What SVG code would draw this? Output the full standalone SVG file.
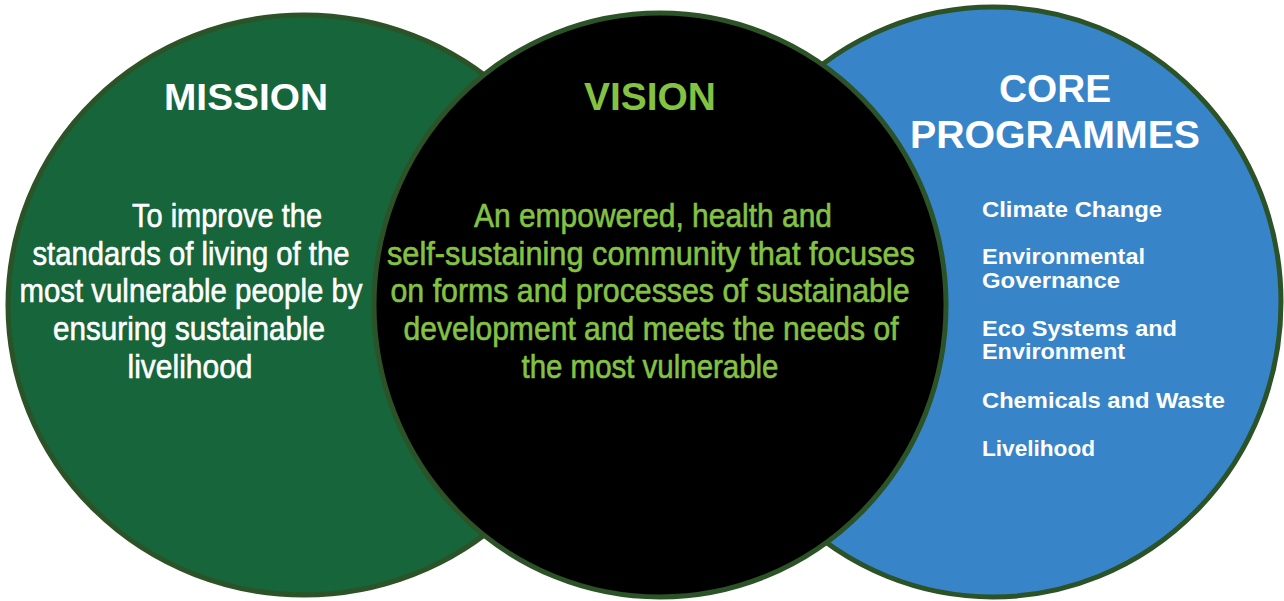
<svg xmlns="http://www.w3.org/2000/svg" width="1284" height="601" viewBox="0 0 1284 601">
  <style>
    .ring { stroke: #2c5227; stroke-width: 5; }
    .title { font-family: "Liberation Sans", Arial, sans-serif; font-weight: bold; text-anchor: middle; }
    .body { font-family: "Liberation Sans", Arial, sans-serif; font-size: 33px; text-anchor: middle; stroke-width: 0.6; }
    .item { font-family: "Liberation Sans", Arial, sans-serif; font-weight: bold; font-size: 22px; fill: #ffffff; }
    .white { fill: #ffffff; stroke: #ffffff; }
    .lime { fill: #84c242; stroke: #84c242; }
    .title.white, .title.lime { stroke: none; }
  </style>
  <rect x="0" y="0" width="1284" height="601" fill="#ffffff"/>

  <g id="mission">
    <ellipse class="ring" cx="304" cy="305" rx="296" ry="290" fill="#17653a"/>
    <text class="title white" x="246" y="110" font-size="37" textLength="164" lengthAdjust="spacingAndGlyphs">MISSION</text>
    <text class="body white" x="227" y="227" textLength="190" lengthAdjust="spacingAndGlyphs">To improve the</text>
    <text class="body white" x="191" y="265" textLength="317" lengthAdjust="spacingAndGlyphs">standards of living of the</text>
    <text class="body white" x="191" y="302" textLength="343" lengthAdjust="spacingAndGlyphs">most vulnerable people by</text>
    <text class="body white" x="189" y="340" textLength="272" lengthAdjust="spacingAndGlyphs">ensuring sustainable</text>
    <text class="body white" x="190" y="378" textLength="125" lengthAdjust="spacingAndGlyphs">livelihood</text>
  </g>

  <g id="core-programmes">
    <ellipse class="ring" cx="993" cy="302" rx="288" ry="295" fill="#3785c8"/>
    <text class="title white" x="1055" y="102" font-size="38" textLength="112" lengthAdjust="spacingAndGlyphs">CORE</text>
    <text class="title white" x="1055" y="148" font-size="38" textLength="290" lengthAdjust="spacingAndGlyphs">PROGRAMMES</text>
    <text class="item" x="982" y="217" textLength="180" lengthAdjust="spacingAndGlyphs">Climate Change</text>
    <text class="item" x="982" y="264" textLength="163" lengthAdjust="spacingAndGlyphs">Environmental</text>
    <text class="item" x="982" y="288" textLength="138" lengthAdjust="spacingAndGlyphs">Governance</text>
    <text class="item" x="982" y="336" textLength="195" lengthAdjust="spacingAndGlyphs">Eco Systems and</text>
    <text class="item" x="982" y="359" textLength="143" lengthAdjust="spacingAndGlyphs">Environment</text>
    <text class="item" x="982" y="408" textLength="243" lengthAdjust="spacingAndGlyphs">Chemicals and Waste</text>
    <text class="item" x="982" y="456" textLength="113" lengthAdjust="spacingAndGlyphs">Livelihood</text>
  </g>

  <g id="vision">
    <ellipse class="ring" cx="660" cy="305" rx="286" ry="292" fill="#000000"/>
    <text class="title lime" x="650" y="110" font-size="38" textLength="132" lengthAdjust="spacingAndGlyphs">VISION</text>
    <text class="body lime" x="653" y="227" textLength="358" lengthAdjust="spacingAndGlyphs">An empowered, health and</text>
    <text class="body lime" x="651" y="265" textLength="528" lengthAdjust="spacingAndGlyphs">self-sustaining community that focuses</text>
    <text class="body lime" x="650" y="302" textLength="519" lengthAdjust="spacingAndGlyphs">on forms and processes of sustainable</text>
    <text class="body lime" x="651" y="340" textLength="495" lengthAdjust="spacingAndGlyphs">development and meets the needs of</text>
    <text class="body lime" x="650" y="378" textLength="257" lengthAdjust="spacingAndGlyphs">the most vulnerable</text>
  </g>

  <g id="connectors"/>
</svg>
